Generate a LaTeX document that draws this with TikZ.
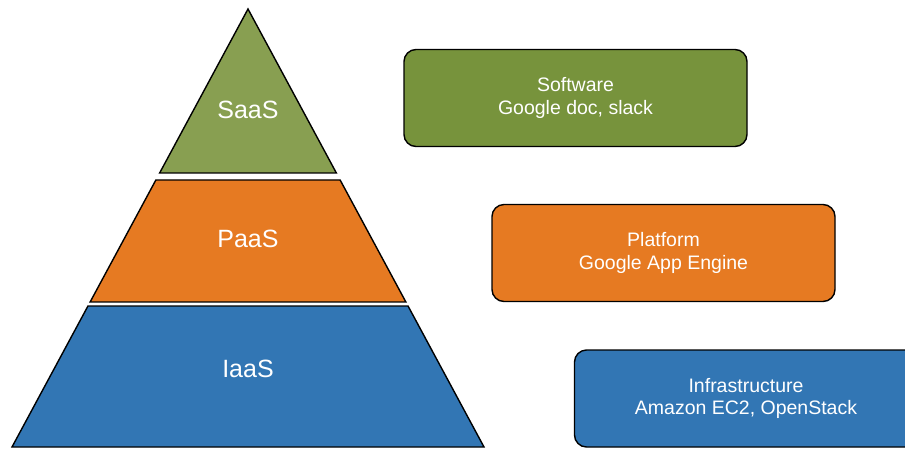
\documentclass[tikz,border=0pt]{standalone}
\usepackage{fontspec}
\setmainfont{Liberation Sans}
\usetikzlibrary{calc}
\definecolor{saastri}{RGB}{136,159,81}
\definecolor{saasbox}{RGB}{119,147,60}
\definecolor{paasc}{RGB}{230,122,34}
\definecolor{iaasc}{RGB}{50,118,180}
\tikzset{
  layer/.style={draw=black, line width=1.4pt, line join=miter},
  layerlabel/.style={text=white, font=\fontsize{25}{30}\selectfont, inner sep=0pt},
  infobox/.style={draw=black, line width=1.4pt, rounded corners=12pt,
    minimum width=343pt, minimum height=97pt, text=white, align=center,
    font=\fontsize{19.5}{22.5}\selectfont, inner sep=0pt}
}
\begin{document}
\begin{tikzpicture}[x=1pt,y=-1pt]
\useasboundingbox (0,0) rectangle (905,448);
\clip (0,0) rectangle (905,448);
\coordinate (A) at (248,9);
\coordinate (L) at (12,447);
\coordinate (R) at (484,447);
% SaaS
\draw[layer, fill=saastri] (A) -- ($(A)!0.3744!(L)$) -- ($(A)!0.3744!(R)$) -- cycle;
% PaaS
\draw[layer, fill=paasc] ($(A)!0.3904!(L)$) -- ($(A)!0.6689!(L)$) -- ($(A)!0.6689!(R)$) -- ($(A)!0.3904!(R)$) -- cycle;
% IaaS
\draw[layer, fill=iaasc] ($(A)!0.6781!(L)$) -- (L) -- (R) -- ($(A)!0.6781!(R)$) -- cycle;
\node[layerlabel] (saas) at (248,110) {SaaS};
\node[layerlabel] (paas) at (248,239) {PaaS};
\node[layerlabel] (iaas) at (248,369) {IaaS};
\node[infobox, fill=saasbox] (sw) at (575.5,98) {Software\\Google doc, slack};
\node[infobox, fill=paasc] (pf) at (663.5,253) {Platform\\Google App Engine};
\node[infobox, fill=iaasc] (inf) at (746,398.5) {Infrastructure\\Amazon EC2, OpenStack};
\end{tikzpicture}
\end{document}
